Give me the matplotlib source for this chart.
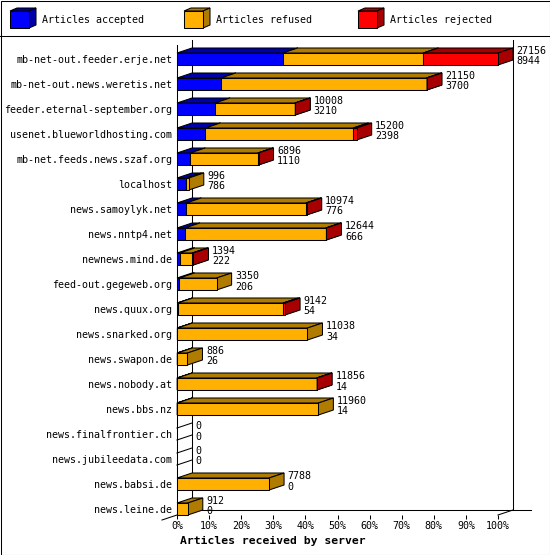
import matplotlib
matplotlib.use("Agg")
import matplotlib.pyplot as plt
from matplotlib.patches import Polygon, Rectangle
from matplotlib.lines import Line2D
import numpy as np

# Articles per server (accepted / refused / rejected)
servers = [
    "mb-net-out.feeder.erje.net", "mb-net-out.news.weretis.net",
    "feeder.eternal-september.org", "usenet.blueworldhosting.com",
    "mb-net.feeds.news.szaf.org", "localhost", "news.samoylyk.net",
    "news.nntp4.net", "newnews.mind.de", "feed-out.gegeweb.org",
    "news.quux.org", "news.snarked.org", "news.swapon.de", "news.nobody.at",
    "news.bbs.nz", "news.finalfrontier.ch", "news.jubileedata.com",
    "news.babsi.de", "news.leine.de",
]
accepted = [8944, 3700, 3210, 2398, 1110, 786, 776, 666, 222, 206,
            54, 34, 26, 14, 14, 0, 0, 0, 0]
refused = [11890, 17410, 6778, 12520, 5736, 210, 10138, 11928, 1082, 3144,
           8938, 11004, 860, 11802, 11946, 0, 0, 7788, 912]
rejected = [6322, 40, 20, 282, 50, 0, 60, 50, 90, 0,
            150, 0, 0, 40, 0, 0, 0, 0, 0]
series_names = ["Articles accepted", "Articles refused", "Articles rejected"]
x_ticks = [0, 10, 20, 30, 40, 50, 60, 70, 80, 90, 100]

front = ["#0000ff", "#ffb000", "#ff0000"]
shade = ["#0000a8", "#b07c00", "#a80000"]
FONT = "DejaVu Sans Mono"
LW = 0.75

W, H = 550, 555
fig = plt.figure(figsize=(W / 100, H / 100), dpi=100)

# plot area: 0..100% on the front plane
ax = fig.add_axes([177 / W, 1 - 515 / H, 321 / W, 470 / H])
y_top, y_bot = -0.56, 18.24
ax.set_xlim(0, 100)
ax.set_ylim(y_bot, y_top)
PX = 100 / 321          # percent per pixel
PY = 1 / 25             # row units per pixel
DX, DY = 15 * PX, 5 * PY
half = 6 * PY

for s in ["top", "right", "bottom"]:
    ax.spines[s].set_visible(False)
ax.spines["left"].set_linewidth(LW)

ax.set_xticks(x_ticks)
ax.set_xticklabels([f"{v}%" for v in x_ticks], fontfamily=FONT, fontsize=7.2)
ax.tick_params(axis="x", length=3, width=LW, pad=1.5)
ax.set_yticks(range(len(servers)))
ax.set_yticklabels(servers, fontfamily=FONT, fontsize=7.2)
ax.tick_params(axis="y", length=0, pad=3.5)

# back wall and floor
kw = dict(color="black", lw=LW, clip_on=False, zorder=1)
ax.plot([DX, DX], [y_top - DY, y_bot - DY], **kw)
ax.plot([100 + DX, 100 + DX], [y_top - DY, y_bot - DY], **kw)
ax.plot([DX, 110.3], [y_bot - DY, y_bot - DY], **kw)
ax.plot([-DX, DX], [y_bot + DY, y_bot - DY], **kw)
ax.plot([100, 100 + DX], [y_bot, y_bot - DY], **kw)

vals = np.array([accepted, refused, rejected], dtype=float)
totals = vals.sum(axis=0)
scale = 100 / totals.max()

for i in range(len(servers)):
    top, bot = i - half, i + half
    if totals[i] == 0:
        for yy in (top, bot):
            ax.plot([0, DX], [yy, yy - DY], color="black", lw=LW,
                    clip_on=False, zorder=3)
    left = 0.0
    for k in range(3):
        w = vals[k, i] * scale
        if w <= 0:
            continue
        x0, x1 = left, left + w
        pk = dict(closed=True, ec="black", lw=LW, clip_on=False, zorder=3,
                  joinstyle="miter")
        ax.add_patch(Polygon([(x0, top), (x1, top), (x1 + DX, top - DY),
                              (x0 + DX, top - DY)], fc=shade[k], **pk))
        ax.add_patch(Polygon([(x1, top), (x1 + DX, top - DY),
                              (x1 + DX, bot - DY), (x1, bot)], fc=shade[k], **pk))
        ax.add_patch(Polygon([(x0, top), (x1, top), (x1, bot), (x0, bot)],
                             fc=front[k], **pk))
        left = x1
    tx = totals[i] * scale + DX + 3.5 * PX
    ax.text(tx, i - 5 * PY, f"{int(totals[i])}", fontfamily=FONT, fontsize=7.2,
            va="baseline", ha="left", zorder=4)
    ax.text(tx, i + 5.5 * PY, f"{accepted[i]}", fontfamily=FONT, fontsize=7.2,
            va="baseline", ha="left", zorder=4)

fig.text(180 / W, 1 - 541 / H, "Articles received by server", fontfamily=FONT,
         fontsize=8.2, fontweight="bold", va="center", ha="left")

# legend strip
lg = fig.add_axes([0, 1 - 35 / H, 1, 35 / H])
lg.set_xlim(0, W)
lg.set_ylim(35, 0)
lg.axis("off")
for k, (x0, tx) in enumerate(zip([10, 184, 358], [42, 216, 390])):
    pk = dict(closed=True, ec="black", lw=LW, joinstyle="miter")
    lg.add_patch(Polygon([(x0, 11), (x0 + 19, 11), (x0 + 26, 8), (x0 + 7, 8)],
                         fc=shade[k], **pk))
    lg.add_patch(Polygon([(x0 + 19, 11), (x0 + 26, 8), (x0 + 26, 25),
                          (x0 + 19, 28)], fc=shade[k], **pk))
    lg.add_patch(Polygon([(x0, 11), (x0 + 19, 11), (x0 + 19, 28), (x0, 28)],
                         fc=front[k], **pk))
    lg.text(tx, 20, series_names[k], fontfamily=FONT, fontsize=7.2,
            va="center", ha="left")

# separator and outer frame
fig.add_artist(Line2D([0, 1], [1 - 35.5 / H] * 2, color="black", lw=LW,
                      transform=fig.transFigure))
fig.add_artist(Rectangle((0.5 / W, 0.5 / H), 1 - 1 / W, 1 - 1 / H, fill=False,
                         ec="black", lw=LW, transform=fig.transFigure))

fig.savefig("out.png", dpi=100, facecolor="white")
